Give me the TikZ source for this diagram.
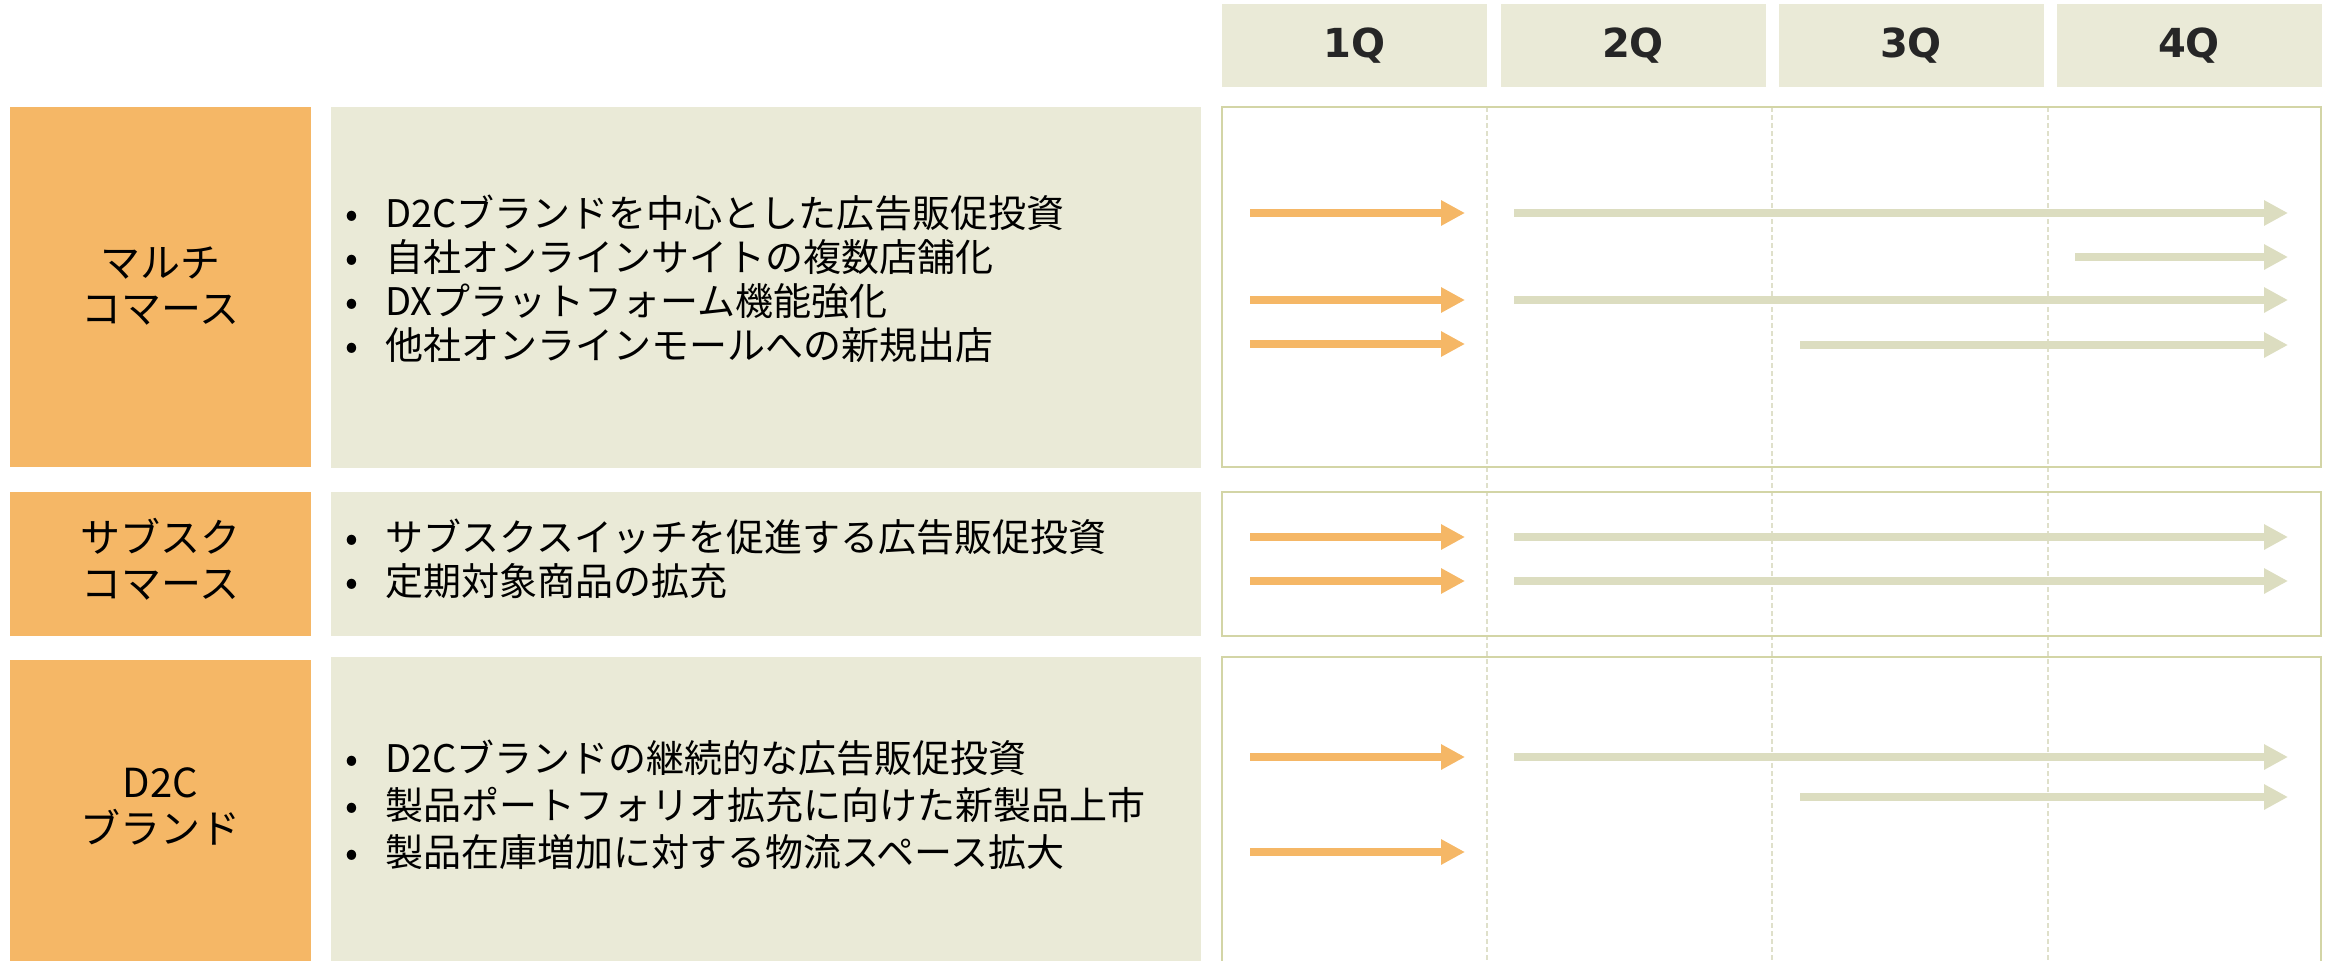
\documentclass[tikz,border=0pt]{standalone}
\usepackage{fontspec}
\setmainfont{Noto Sans CJK JP}
\newfontfamily\qfont{DejaVu Sans}
\usetikzlibrary{arrows.meta}
\definecolor{planorange}{HTML}{F5B766}
\definecolor{planbeige}{HTML}{EAEAD7}
\definecolor{planline}{HTML}{D3D5A6}
\definecolor{plangrey}{HTML}{DCDDC0}
\definecolor{plandash}{HTML}{DFE0CA}
\definecolor{planink}{HTML}{262626}
\newcommand{\bul}{\makebox[40pt][l]{•}}
\begin{document}
\begin{tikzpicture}[x=1pt, y=-1pt]
            \tikzstyle{qhead} = [fill=planbeige, minimum width=265pt, minimum height=83pt, inner sep=0pt, text=planink, font=\qfont\bfseries\fontsize{40}{46}\selectfont]
            \tikzstyle{theme} = [align=center, font=\fontsize{40}{46}\selectfont]
            \tikzstyle{items} = [align=left, anchor=west, inner sep=0pt, font=\fontsize{38}{44}\selectfont]
            \tikzstyle{frame} = [draw=planline, line width=2.5pt]
            \tikzstyle{qline} = [draw=plandash, line width=1.3pt, dash pattern=on 5pt off 3pt]
            \tikzstyle{firstq} = [draw=planorange, line width=8pt, -{Triangle[length=24pt, width=24pt]}]
            \tikzstyle{laterq} = [draw=plangrey, line width=8pt, -{Triangle[length=24pt, width=24pt]}]
            \useasboundingbox (0, 0) rectangle (2330, 961);
            % quarter headers
            \node[qhead] (q1) at (1354.5, 45.5) {1Q};
            \node[qhead] (q2) at (1633, 45.5) {2Q};
            \node[qhead] (q3) at (1911, 45.5) {3Q};
            \node[qhead] (q4) at (2189, 45.5) {4Q};
            % rows
            \fill[planorange] (10, 107) rectangle (311, 467);
            \fill[planorange] (10, 492) rectangle (311, 636);
            \fill[planorange] (10, 660) rectangle (311, 961);
            \fill[planbeige] (331, 107) rectangle (1201, 468);
            \fill[planbeige] (331, 492) rectangle (1201, 636);
            \fill[planbeige] (331, 657) rectangle (1201, 961);
            \draw[qline] (1487, 107) -- (1487, 961);
            \draw[qline] (1772, 107) -- (1772, 961);
            \draw[qline] (2048, 107) -- (2048, 961);
            \draw[frame] (1222, 107) rectangle (2321, 467);
            \draw[frame] (1222, 492) rectangle (2321, 636);
            \draw[frame] (1222, 961) -- (1222, 657) -- (2321, 657) -- (2321, 961);
            \node[theme] (multi) at (160.5, 286) {マルチ\\コマース};
            \node[theme] (subsc) at (160.5, 559) {サブスク\\コマース};
            \node[theme] (dtoc) at (160.5, 806) {D2C\\ブランド};
            \node[items] (multiList) at (345, 279) {\bul D2Cブランドを中心とした広告販促投資\\\bul 自社オンラインサイトの複数店舗化\\\bul DXプラットフォーム機能強化\\\bul 他社オンラインモールへの新規出店};
            \node[items] (subscList) at (345, 559) {\bul サブスクスイッチを促進する広告販促投資\\\bul 定期対象商品の拡充};
            \node[items, font=\fontsize{38}{47}\selectfont] (dtocList) at (345, 805) {\bul D2Cブランドの継続的な広告販促投資\\\bul 製品ポートフォリオ拡充に向けた新製品上市\\\bul 製品在庫増加に対する物流スペース拡大};
            % schedule
            \draw[firstq] (1250, 213) -- (1465, 213);
            \draw[laterq] (1514, 213) -- (2288, 213);
            \draw[laterq] (2075, 257) -- (2288, 257);
            \draw[firstq] (1250, 300) -- (1465, 300);
            \draw[laterq] (1514, 300) -- (2288, 300);
            \draw[firstq] (1250, 344) -- (1465, 344);
            \draw[laterq] (1800, 345) -- (2288, 345);
            \draw[firstq] (1250, 537) -- (1465, 537);
            \draw[laterq] (1514, 537) -- (2288, 537);
            \draw[firstq] (1250, 581) -- (1465, 581);
            \draw[laterq] (1514, 581) -- (2288, 581);
            \draw[firstq] (1250, 757) -- (1465, 757);
            \draw[laterq] (1514, 757) -- (2288, 757);
            \draw[laterq] (1800, 797) -- (2288, 797);
            \draw[firstq] (1250, 852) -- (1465, 852);
        \end{tikzpicture}
\end{document}
